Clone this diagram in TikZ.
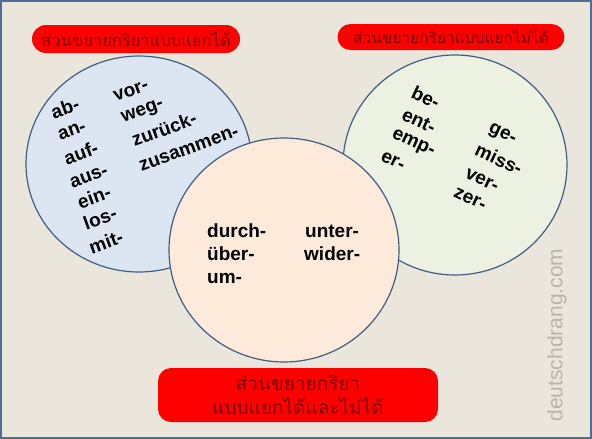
\documentclass[tikz,border=0pt]{standalone}
\usepackage{fontspec}
\setmainfont{Liberation Sans}
\newfontfamily\thaifont[Script=Thai]{Loma}
\definecolor{bgbeige}{RGB}{234,230,220}
\definecolor{frameblue}{RGB}{79,110,148}
\definecolor{ringline}{RGB}{64,94,130}
\definecolor{sepblue}{RGB}{220,230,242}
\definecolor{insepgreen}{RGB}{236,241,226}
\definecolor{bothpeach}{RGB}{253,234,218}
\definecolor{tagtext}{RGB}{128,0,0}
\definecolor{markgray}{RGB}{186,181,170}

\begin{document}
\begin{tikzpicture}[x=1pt,y=-1pt,
  ring/.style={draw=ringline, line width=1.2pt},
  word/.style={font=\fontsize{19}{22}\selectfont\bfseries, inner sep=0pt},
  tag/.style={fill=red, text=tagtext, inner sep=0pt, align=center}]
  \useasboundingbox (0,0) rectangle (592,439);
  \fill[bgbeige] (0,0) rectangle (592,439);
  \draw[frameblue, line width=2pt] (1,1) rectangle (591,438);

  % the three sets
  \filldraw[ring, fill=sepblue] (139,164) ellipse [x radius=113pt, y radius=108pt];
  \filldraw[ring, fill=insepgreen] (455,165) ellipse [x radius=112pt, y radius=110pt];
  \filldraw[ring, fill=bothpeach] (284,250) ellipse [x radius=115pt, y radius=112pt];

  % labels
  \node[tag, rounded corners=14pt, minimum width=208pt, minimum height=28pt,
        font=\thaifont\fontsize{16.5}{20}\selectfont] (septag) at (136,39) {ส่วนขยายกริยาแบบแยกได้};
  \node[tag, rounded corners=13pt, minimum width=227pt, minimum height=26pt,
        font=\thaifont\fontsize{15.5}{18}\selectfont] (inseptag) at (451,37) {ส่วนขยายกริยาแบบแยกไม่ได้};
  \node[tag, rounded corners=13pt, minimum width=280pt, minimum height=54pt,
        font=\thaifont\fontsize{19}{24}\selectfont] (bothtag) at (298,395) {ส่วนขยายกริยา\\แบบแยกได้และไม่ได้};

  % separable prefixes
  \node[word, rotate=20] (ab) at (65,108) {ab-};
  \node[word, rotate=20] (an) at (72,131) {an-};
  \node[word, rotate=20] (auf) at (81,153) {auf-};
  \node[word, rotate=20] (aus) at (89,177) {aus-};
  \node[word, rotate=20] (ein) at (94,197) {ein-};
  \node[word, rotate=20] (los) at (100,218) {los-};
  \node[word, rotate=20] (mit) at (106,242) {mit-};
  \node[word, rotate=20] (vor) at (131,91) {vor-};
  \node[word, rotate=20] (weg) at (143,112) {weg-};
  \node[word, rotate=20] (zurueck) at (164,129) {zurück-};
  \node[word, rotate=20] (zusammen) at (189,149) {zusammen-};

  % inseparable prefixes
  \node[word, rotate=-25] (be) at (426,97) {be-};
  \node[word, rotate=-25] (ent) at (419,121) {ent-};
  \node[word, rotate=-25] (emp) at (413,144) {emp-};
  \node[word, rotate=-25] (er) at (393,161) {er-};
  \node[word, rotate=-25] (ge) at (502,135) {ge-};
  \node[word, rotate=-25] (miss) at (499,159) {miss-};
  \node[word, rotate=-25] (ver) at (482,180) {ver-};
  \node[word, rotate=-25] (zer) at (470,199) {zer-};

  % both
  \node[word, anchor=base west] (durch) at (207,237) {durch-};
  \node[word, anchor=base west] (ueber) at (207,260) {über-};
  \node[word, anchor=base west] (um) at (207,283) {um-};
  \node[word, anchor=base west] (unter) at (305,237) {unter-};
  \node[word, anchor=base west] (wider) at (304,260) {wider-};

  \node[rotate=90, text=markgray, font=\fontsize{21}{24}\selectfont, inner sep=0pt] (site) at (557,335) {deutschdrang.com};
\end{tikzpicture}
\end{document}
